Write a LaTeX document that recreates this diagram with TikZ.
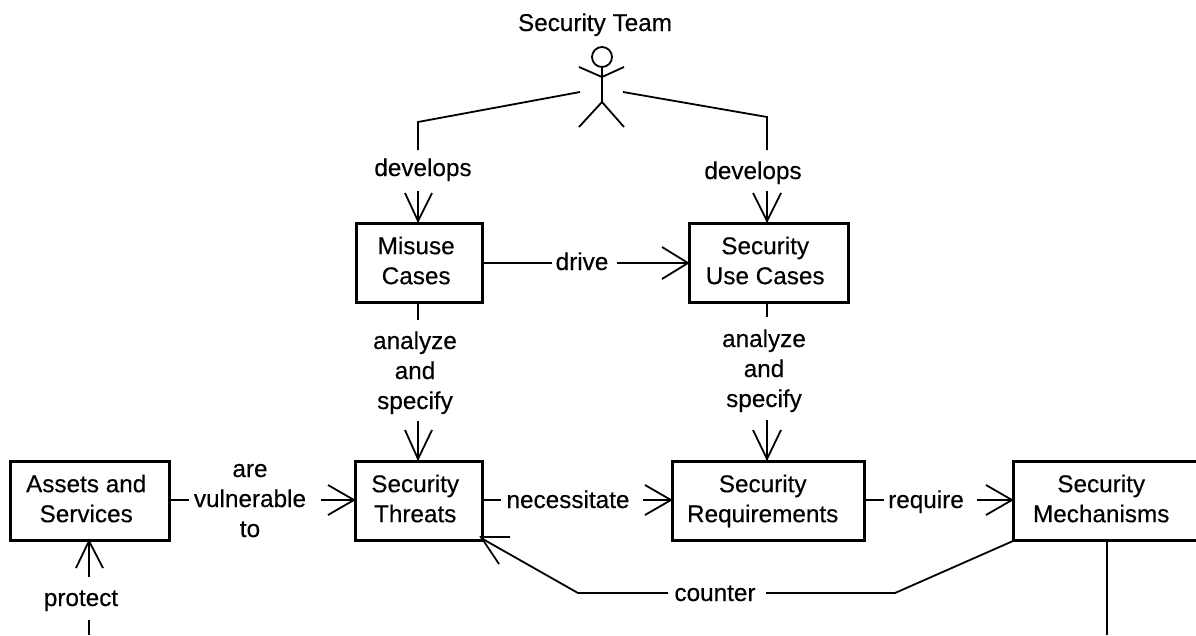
\documentclass[tikz,border=0pt]{standalone}
\usepackage{fontspec}
\setmainfont[FakeBold=0.3]{Liberation Sans}
\newcommand{\tb}[2]{\begin{tabular}{@{}c@{\hspace{#1pt}}}#2\end{tabular}}
\begin{document}
\begin{tikzpicture}[x=1pt,y=-1pt,
  every node/.style={font=\fontsize{24.3}{30}\selectfont,inner sep=0pt,text=black},
  box/.style={draw=black,line width=3.4pt,fill=white,minimum width=#1,anchor=north west,minimum height=79pt},
  ln/.style={line width=1.8pt,line cap=butt,line join=miter},
  hd/.style={line width=1.8pt}]
\useasboundingbox (0,0) rectangle (1196,635);
\fill[white] (0,0) rectangle (1196,635);
% boxes
\node[box=126pt] (mis) at (355,222) {\tb{7}{Misuse\\Cases}};
\node[box=159pt] (suc) at (688,222) {\tb{8}{Security\\Use Cases}};
\node[box=127pt] (thr) at (354,460) {\tb{8}{Security\\Threats}};
\node[box=159pt] (ass) at (9,460) {\tb{8}{Assets and\\Services}};
\node[box=192pt] (req) at (671,460) {\tb{12}{Security\\Requirements}};
\node[box=207pt] (mec) at (1012,460) {\tb{32}{Security\\Mechanisms}};
% labels
\node (team) at (595,25) {\tb{0}{Security Team}};
\node (d1) at (423,170) {\tb{0}{develops}};
\node (d2) at (753,173) {\tb{0}{develops}};
\node (drv) at (582,264) {\tb{0}{drive}};
\node (an1) at (415,373) {\tb{0}{analyze\\and\\specify}};
\node (an2) at (764,371) {\tb{0}{analyze\\and\\specify}};
\node (vul) at (250,501) {\tb{0}{are\\vulnerable\\to}};
\node (nec) at (568,502) {\tb{0}{necessitate}};
\node (rq) at (926,502) {\tb{0}{require}};
\node (cnt) at (715,595) {\tb{0}{counter}};
\node (prt) at (81,600) {\tb{0}{protect}};
% actor
\coordinate (head) at (602,57);
\coordinate (neck) at (602,67);
\coordinate (chest) at (602,77);
\coordinate (hip) at (602,102);
\coordinate (lhand) at (579,67);
\coordinate (rhand) at (624,67);
\coordinate (lfoot) at (579,127);
\coordinate (rfoot) at (624,127);
\draw[hd] (head) circle (10pt);
\draw[hd] (neck) -- (hip) (lhand) -- (chest) -- (rhand) (lfoot) -- (hip) -- (rfoot);
% team to use cases
\draw[ln] (580,92) -- (418,122) -- (418,150);
\draw[ln] (623,92) -- (767,117) -- (767,150);
\draw[ln] (418,191) -- (418,222);
\draw[ln] (767,191) -- (767,222);
\draw[ln] (405,193) -- (418,221) -- (432,193);
\draw[ln] (753,193) -- (767,221) -- (781,193);
% drive
\draw[ln] (mis.east |- 0,263) -- (552,263);
\draw[ln] (617,263) -- (suc.west |- 0,263);
\draw[ln] (662,247) -- (688,263) -- (662,279);
% analyze
\draw[ln] (418,303) -- (418,320);
\draw[ln] (418,421) -- (418,460);
\draw[ln] (405,430) -- (418,459) -- (432,430);
\draw[ln] (767,303) -- (767,317);
\draw[ln] (767,420) -- (767,460);
\draw[ln] (753,430) -- (767,459) -- (781,430);
% horizontals
\draw[ln] (ass.east |- 0,500) -- (189,500);
\draw[ln] (321,500) -- (thr.west |- 0,500);
\draw[ln] (328,485) -- (354,500) -- (328,515);
\draw[ln] (thr.east |- 0,500) -- (501,500);
\draw[ln] (643,500) -- (req.west |- 0,500);
\draw[ln] (645,485) -- (671,500) -- (645,515);
\draw[ln] (req.east |- 0,500) -- (884,500);
\draw[ln] (977,500) -- (mec.west |- 0,500);
\draw[ln] (986,485) -- (1012,500) -- (986,515);
% counter
\draw[ln] (1013,541) -- (895,593) -- (766,593);
\draw[ln] (668,593) -- (578,593) -- (481,538);
\draw[ln] (510,537) -- (481,537) -- (499,564);
% mechanisms down
\draw[ln] (1107,541) -- (1107,635);
% protect
\draw[ln] (89,577) -- (89,541);
\draw[ln] (76,568) -- (89,541) -- (103,568);
\draw[ln] (89,620) -- (89,635);
\end{tikzpicture}
\end{document}
